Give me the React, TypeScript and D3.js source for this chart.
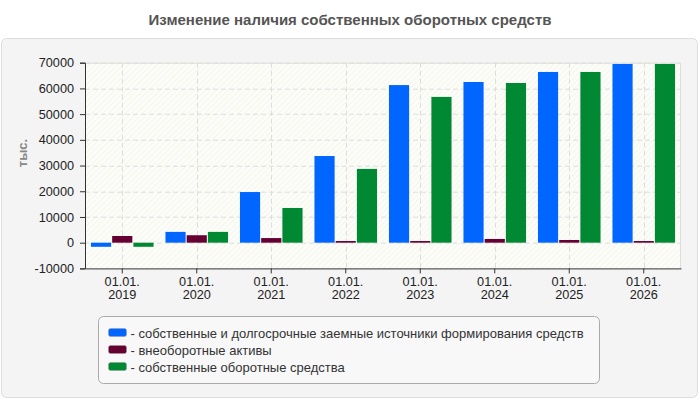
import React, { useEffect, useRef } from 'react';
import * as d3 from 'd3';

const categories = ['2019', '2020', '2021', '2022', '2023', '2024', '2025', '2026'];
const seriesNames = [
  'собственные и долгосрочные заемные источники формирования средств',
  'внеоборотные активы',
  'собственные оборотные средства',
];
const ownAndLongTerm = [-1600, 4200, 19700, 33700, 61300, 62500, 66400, 69500];
const fixedAssets = [2600, 2900, 1800, 650, 650, 1450, 1050, 650];
const workingCapital = [-1600, 4200, 13500, 28700, 56700, 62100, 66400, 69500];
const yTicks = [-10000, 0, 10000, 20000, 30000, 40000, 50000, 60000, 70000];
const colors = ['#0066ff', '#660033', '#008833'];

const App = () => {
  const ref = useRef<SVGSVGElement>(null);

  useEffect(() => {
    const W = 700;
    const H = 400;
    const margin = { top: 62.7, right: 19, bottom: 131.6, left: 85 };
    const width = W - margin.left - margin.right;
    const height = H - margin.top - margin.bottom;
    const font = 'Arial, "Liberation Sans", sans-serif';

    const svg = d3.select(ref.current);
    svg.selectAll('*').remove();

    const defs = svg.append('defs');
    const pat = defs
      .append('pattern')
      .attr('id', 'hatch')
      .attr('patternUnits', 'userSpaceOnUse')
      .attr('width', 4)
      .attr('height', 4)
      .attr('patternTransform', 'rotate(45)');
    pat.append('rect').attr('width', 4).attr('height', 4).attr('fill', '#fdfdf8');
    pat.append('line').attr('x1', 0).attr('y1', 0).attr('x2', 0).attr('y2', 4).attr('stroke', '#ececec').attr('stroke-width', 1);

    // title
    svg
      .append('text')
      .attr('x', W / 2)
      .attr('y', 25)
      .attr('text-anchor', 'middle')
      .attr('font-family', font)
      .attr('font-size', 15)
      .attr('font-weight', 'bold')
      .attr('fill', '#555')
      .text('Изменение наличия собственных оборотных средств');

    // panel
    svg
      .append('rect')
      .attr('x', 1.5)
      .attr('y', 38.5)
      .attr('width', 696)
      .attr('height', 359)
      .attr('rx', 5)
      .attr('fill', '#f4f4f4')
      .attr('stroke', '#dddddd');

    const chart = svg.append('g').attr('transform', `translate(${margin.left},${margin.top})`);

    const x0 = d3.scaleBand().domain(categories).range([0, width]).paddingInner(0.16).paddingOuter(0.08);
    const x1 = d3.scaleBand().domain(['0', '1', '2']).range([0, x0.bandwidth()]).paddingInner(0.05);
    const y = d3.scaleLinear().domain([-10000, 70000]).range([height, 0]);

    chart.append('rect').attr('width', width).attr('height', height).attr('fill', 'url(#hatch)');

    // grid
    chart
      .selectAll('.hgrid')
      .data(yTicks.filter((d) => d > -10000))
      .enter()
      .append('line')
      .attr('x1', 0)
      .attr('x2', width)
      .attr('y1', (d) => Math.round(y(d)) + 0.5)
      .attr('y2', (d) => Math.round(y(d)) + 0.5)
      .attr('stroke', '#dddddd')
      .attr('stroke-dasharray', '5,3');

    const catCenter = (c: string) => (x0(c) as number) + x0.bandwidth() / 2;
    chart
      .selectAll('.vgrid')
      .data(categories)
      .enter()
      .append('line')
      .attr('x1', (d) => Math.round(catCenter(d)) + 0.5)
      .attr('x2', (d) => Math.round(catCenter(d)) + 0.5)
      .attr('y1', 0)
      .attr('y2', height)
      .attr('stroke', '#dddddd')
      .attr('stroke-dasharray', '5,3');

    // top/right border
    chart
      .append('path')
      .attr('d', `M0,0.5H${width - 0.5}V${height}`)
      .attr('fill', 'none')
      .attr('stroke', '#dddddd');

    const series = [ownAndLongTerm, fixedAssets, workingCapital];
    series.forEach((vals, si) => {
      chart
        .selectAll(`.bar${si}`)
        .data(vals)
        .enter()
        .append('rect')
        .attr('x', (_d, i) => (x0(categories[i]) as number) + (x1(String(si)) as number))
        .attr('width', x1.bandwidth())
        .attr('y', (d) => y(Math.max(0, d)))
        .attr('height', (d) => Math.abs(y(d) - y(0)))
        .attr('fill', colors[si]);
    });

    // y axis
    const yAxis = chart
      .append('g')
      .call(d3.axisLeft(y).tickValues(yTicks).tickSize(5).tickPadding(6).tickFormat((d) => String(d)));
    yAxis.select('.domain').attr('stroke', '#333');
    yAxis.selectAll('line').attr('stroke', '#333');
    yAxis.selectAll('text').attr('font-family', font).attr('font-size', 12.7).attr('fill', '#222');

    // x axis
    const xAxis = chart
      .append('g')
      .attr('transform', `translate(0,${height})`)
      .call(d3.axisBottom(x0).tickSize(5).tickSizeOuter(0).tickFormat(() => ''));
    xAxis.select('.domain').attr('stroke', '#333');
    xAxis.selectAll('line').attr('stroke', '#333');
    xAxis.selectAll('.tick').each(function (d) {
      const t = d3.select(this).append('text').attr('font-family', font).attr('font-size', 12.7).attr('fill', '#222').attr('text-anchor', 'middle');
      t.append('tspan').attr('x', 0).attr('y', 18).text('01.01.');
      t.append('tspan').attr('x', 0).attr('y', 30.5).text(String(d));
    });

    // y title
    svg
      .append('text')
      .attr('transform', `translate(27,153) rotate(-90)`)
      .attr('text-anchor', 'middle')
      .attr('font-family', font)
      .attr('font-size', 13)
      .attr('font-weight', 'bold')
      .attr('fill', '#888')
      .text('тыс.');

    // legend
    const lg = svg.append('g').attr('transform', 'translate(98.5,316.5)');
    lg.append('rect').attr('width', 501).attr('height', 67).attr('rx', 5).attr('fill', '#f8f8f8').attr('stroke', '#aaaaaa');
    seriesNames.forEach((name, i) => {
      const row = lg.append('g').attr('transform', `translate(10,${12 + i * 17})`);
      row.append('rect').attr('width', 18).attr('height', 8).attr('rx', 2).attr('fill', colors[i]).attr('stroke', '#999').attr('stroke-width', 0.5);
      row
        .append('text')
        .attr('x', 22)
        .attr('y', 9)
        .attr('font-family', font)
        .attr('font-size', 13)
        .attr('fill', '#333')
        .text('- ' + name);
    });
  }, []);

  return <svg ref={ref} width={700} height={400} style={{ position: 'absolute', left: 0, top: 0 }}></svg>;
};

export default App;
